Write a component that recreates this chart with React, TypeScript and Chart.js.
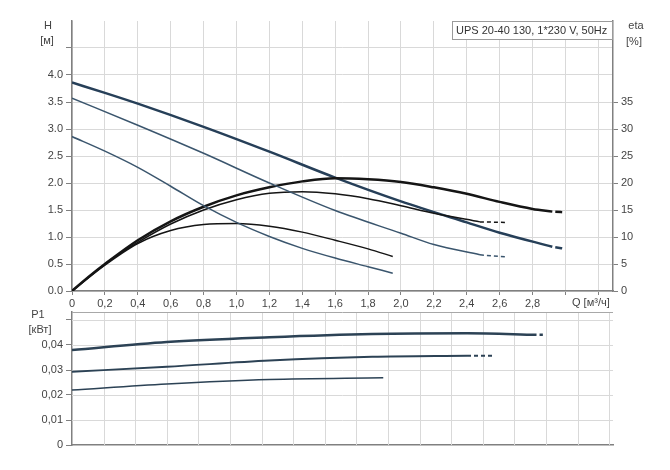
import React, { useEffect, useRef } from "react";
import { Chart, registerables } from "chart.js";
Chart.register(...registerables);

// ---------- data ----------
const Q_TICKS_TOP = [0, 0.2, 0.4, 0.6, 0.8, 1.0, 1.2, 1.4, 1.6, 1.8, 2.0, 2.2, 2.4, 2.6, 2.8, 3.0, 3.2];
const Q_LABELS_TOP = ["0", "0,2", "0,4", "0,6", "0,8", "1,0", "1,2", "1,4", "1,6", "1,8", "2,0", "2,2", "2,4", "2,6", "2,8", "", ""];
const H_TICKS = [0, 0.5, 1, 1.5, 2, 2.5, 3, 3.5, 4, 4.5, 5];
const H_LABELS = ["0.0", "0.5", "1.0", "1.5", "2.0", "2.5", "3.0", "3.5", "4.0", "", ""];
const ETA_TICKS = [0, 5, 10, 15, 20, 25, 30, 35];
const ETA_LABELS = ["0", "5", "10", "15", "20", "25", "30", "35"];
const Q_TICKS_BOTTOM = [0, 0.2, 0.4, 0.6, 0.8, 1.0, 1.2, 1.4, 1.6, 1.8, 2.0, 2.2, 2.4, 2.6, 2.8, 3.0, 3.2, 3.4];
const P1_TICKS = [0, 0.01, 0.02, 0.03, 0.04, 0.05];
const P1_LABELS = ["0", "0,01", "0,02", "0,03", "0,04", ""];
const P1_MAX = 0.0532;

// head curves H [m]
const H1_Q = [0, 0.2, 0.4, 0.8, 1.2, 1.6, 2.0, 2.4, 2.6, 2.92];
const H1_V = [3.86, 3.67, 3.47, 3.04, 2.58, 2.1, 1.66, 1.27, 1.08, 0.82];
const H1_DASH_Q = [2.92, 2.98];
const H1_DASH_V = [0.82, 0.79];

const H2_Q = [0, 0.4, 0.8, 1.2, 1.6, 2.0, 2.2, 2.48];
const H2_V = [3.57, 3.07, 2.55, 2.0, 1.49, 1.07, 0.86, 0.67];
const H2_DASH_Q = [2.48, 2.64];
const H2_DASH_V = [0.67, 0.63];

const H3_Q = [0, 0.2, 0.4, 0.6, 0.8, 1.0, 1.2, 1.4, 1.6, 1.8, 1.95];
const H3_V = [2.86, 2.59, 2.29, 1.94, 1.58, 1.27, 1.01, 0.79, 0.61, 0.45, 0.33];

// efficiency curves eta [%]
const E1_Q = [0, 0.1, 0.2, 0.4, 0.6, 0.8, 1.0, 1.2, 1.4, 1.6, 1.8, 2.0, 2.2, 2.4, 2.6, 2.8, 2.92];
const E1_V = [0, 2.6, 5.0, 9.4, 12.9, 15.6, 17.7, 19.2, 20.3, 20.9, 20.7, 20.2, 19.2, 18.0, 16.5, 15.2, 14.7];
const E1_DASH_Q = [2.92, 2.98];
const E1_DASH_V = [14.7, 14.6];

const E2_Q = [0, 0.2, 0.4, 0.6, 0.8, 1.0, 1.2, 1.4, 1.6, 1.8, 2.0, 2.2, 2.48];
const E2_V = [0, 5.0, 9.0, 12.4, 15.0, 16.9, 18.1, 18.4, 18.0, 17.1, 15.8, 14.4, 12.8];
const E2_DASH_Q = [2.48, 2.64];
const E2_DASH_V = [12.8, 12.7];

const E3_Q = [0, 0.2, 0.4, 0.6, 0.8, 1.0, 1.2, 1.4, 1.6, 1.8, 1.95];
const E3_V = [0, 4.8, 8.8, 11.2, 12.3, 12.5, 12.0, 10.9, 9.4, 7.8, 6.4];

// power curves P1 [kW]
const P1A_Q = [0, 0.6, 1.25, 1.9, 2.5, 2.94];
const P1A_V = [0.038, 0.0412, 0.0431, 0.0444, 0.0447, 0.0441];
const P1A_DASH_Q = [2.94, 2.98];
const P1A_DASH_V = [0.0441, 0.0441];

const P1B_Q = [0, 0.6, 1.25, 1.9, 2.5];
const P1B_V = [0.0293, 0.0313, 0.0338, 0.0353, 0.0357];
const P1B_DASH_Q = [2.5, 2.67];
const P1B_DASH_V = [0.0357, 0.0357];

const P1C_Q = [0, 0.6, 1.25, 1.97];
const P1C_V = [0.022, 0.0244, 0.0262, 0.0269];

const LEGEND_TEXT = "UPS 20-40 130, 1*230 V, 50Hz";

// ---------- styling ----------
const FONT = "'Liberation Sans', Arial, sans-serif";
const GRID = "#d9d9d9";
const AXIS = "#808080";
const TXT = "#444444";
const BLUE_THICK = "#263f58";
const BLUE = "#3a556d";
const BLACK = "#151515";
const PCOL = "#2c4255";

const pts = (q: number[], v: number[]) => q.map((x, i) => ({ x, y: v[i] }));

function ds(q: number[], v: number[], color: string, width: number, axis: string, dash?: number[]) {
  return {
    data: pts(q, v),
    borderColor: color,
    borderWidth: width,
    pointRadius: 0,
    fill: false,
    yAxisID: axis,
    cubicInterpolationMode: "monotone" as const,
    borderDash: dash || [],
    borderCapStyle: "butt" as const,
  };
}

function textPlugin(draw: (ctx: CanvasRenderingContext2D) => void) {
  return {
    id: "texts",
    afterDraw(chart: any) {
      const ctx = chart.ctx as CanvasRenderingContext2D;
      ctx.save();
      draw(ctx);
      ctx.restore();
    },
  };
}

// draws the bottom panel's grid from its own scales
const bottomGridPlugin = {
  id: "bottomGrid",
  beforeDatasetsDraw(chart: any) {
    const ctx = chart.ctx as CanvasRenderingContext2D;
    const { left, right, top, bottom } = chart.chartArea;
    const xs = chart.scales.x;
    const ys = chart.scales.y;
    ctx.save();
    ctx.lineWidth = 1;
    ctx.strokeStyle = GRID;
    Q_TICKS_BOTTOM.forEach((q) => {
      if (q === 0) return;
      const px = Math.round(xs.getPixelForValue(q)) + 0.5;
      ctx.beginPath();
      ctx.moveTo(px, top);
      ctx.lineTo(px, bottom);
      ctx.stroke();
    });
    P1_TICKS.forEach((p) => {
      if (p === 0) return;
      const py = Math.round(ys.getPixelForValue(p)) + 0.5;
      ctx.beginPath();
      ctx.moveTo(left, py);
      ctx.lineTo(right, py);
      ctx.stroke();
    });
    ctx.strokeStyle = "#a8a8a8";
    const ty = Math.round(ys.getPixelForValue(P1_MAX)) + 0.5;
    ctx.beginPath();
    ctx.moveTo(left, ty);
    ctx.lineTo(right, ty);
    ctx.stroke();
    ctx.restore();
  },
};

const fixedTicks = (vals: number[]) => (axis: any) => {
  axis.ticks = vals.map((v) => ({ value: v }));
};

export default function App() {
  const topRef = useRef<HTMLCanvasElement>(null);
  const botRef = useRef<HTMLCanvasElement>(null);

  useEffect(() => {
    const top = new Chart(topRef.current as HTMLCanvasElement, {
      type: "line",
      data: {
        datasets: [
          ds(H3_Q, H3_V, BLUE, 1.5, "y"),
          ds(H2_Q, H2_V, BLUE, 1.5, "y"),
          ds(H2_DASH_Q, H2_DASH_V, BLUE, 1.5, "y", [4, 3]),
          ds(E3_Q, E3_V, BLACK, 1.5, "eta"),
          ds(E2_Q, E2_V, BLACK, 1.5, "eta"),
          ds(E2_DASH_Q, E2_DASH_V, BLACK, 1.5, "eta", [4, 3]),
          ds(E1_Q, E1_V, BLACK, 2.5, "eta"),
          ds(E1_DASH_Q, E1_DASH_V, BLACK, 2.5, "eta", [0, 3, 6]),
          ds(H1_Q, H1_V, BLUE_THICK, 2.5, "y"),
          ds(H1_DASH_Q, H1_DASH_V, BLUE_THICK, 2.5, "y", [0, 3, 6]),
        ] as any,
      },
      options: {
        responsive: false,
        animation: false,
        events: [],
        layout: { padding: { top: 21, left: 0, right: 0, bottom: 0 } },
        plugins: { legend: { display: false }, tooltip: { enabled: false } },
        scales: {
          x: {
            type: "linear",
            min: 0,
            max: 3.289,
            afterBuildTicks: fixedTicks(Q_TICKS_TOP),
            afterFit: (s: any) => { s.height = 20; },
            ticks: {
              autoSkip: false,
              maxRotation: 0,
              padding: 2,
              color: TXT,
              font: { family: FONT, size: 11 },
              callback: (_v: any, i: number) => Q_LABELS_TOP[i],
            },
            grid: { color: GRID, lineWidth: 1, tickLength: 4, tickColor: AXIS },
            border: { color: AXIS, width: 1.5 },
          },
          y: {
            type: "linear",
            position: "left",
            min: 0,
            max: 5,
            afterBuildTicks: fixedTicks(H_TICKS),
            afterFit: (s: any) => { s.width = 72; },
            ticks: {
              autoSkip: false,
              padding: 3,
              color: TXT,
              font: { family: FONT, size: 11 },
              callback: (_v: any, i: number) => H_LABELS[i],
            },
            grid: {
              color: (c: any) => (c.tick && c.tick.value >= 5 ? "rgba(0,0,0,0)" : GRID),
              tickColor: (c: any) => (c.tick && c.tick.value >= 5 ? "rgba(0,0,0,0)" : AXIS),
              tickLength: 6,
            },
            border: { color: AXIS, width: 1.5 },
          },
          eta: {
            type: "linear",
            position: "right",
            min: 0,
            max: 50,
            afterBuildTicks: fixedTicks(ETA_TICKS),
            afterFit: (s: any) => { s.width = 57; },
            ticks: {
              autoSkip: false,
              padding: 3,
              color: TXT,
              font: { family: FONT, size: 11 },
              callback: (_v: any, i: number) => ETA_LABELS[i],
            },
            grid: { drawOnChartArea: false, tickLength: 5, tickColor: AXIS },
            border: { color: AXIS, width: 1.5 },
          },
        },
      } as any,
      plugins: [
        textPlugin((ctx) => {
          ctx.fillStyle = TXT;
          ctx.font = `11px ${FONT}`;
          ctx.textAlign = "center";
          ctx.textBaseline = "middle";
          ctx.fillText("H", 48, 26);
          ctx.fillText("[м]", 47, 41);
          ctx.fillText("eta", 636, 26);
          ctx.fillText("[%]", 634, 42);
          ctx.textAlign = "left";
          ctx.fillText("Q [м³/ч]", 572, 303);
          // legend box
          ctx.fillStyle = "#ffffff";
          ctx.fillRect(452.5, 21.5, 160, 18);
          ctx.strokeStyle = "#9a9a9a";
          ctx.lineWidth = 1;
          ctx.strokeRect(452.5, 21.5, 160, 18);
          ctx.fillStyle = "#333333";
          ctx.fillText(LEGEND_TEXT, 456, 31);
        }),
      ],
    });

    const bot = new Chart(botRef.current as HTMLCanvasElement, {
      type: "line",
      data: {
        datasets: [
          ds(P1C_Q, P1C_V, PCOL, 1.5, "y"),
          ds(P1B_Q, P1B_V, PCOL, 1.8, "y"),
          ds(P1B_DASH_Q, P1B_DASH_V, PCOL, 1.8, "y", [4, 3]),
          ds(P1A_Q, P1A_V, PCOL, 2.5, "y"),
          ds(P1A_DASH_Q, P1A_DASH_V, PCOL, 2.5, "y", [0, 3, 6]),
        ] as any,
      },
      options: {
        responsive: false,
        animation: false,
        events: [],
        layout: { padding: { top: 12, left: 0, right: 57, bottom: 0 } },
        plugins: { legend: { display: false }, tooltip: { enabled: false } },
        scales: {
          x: {
            type: "linear",
            min: 0,
            max: 3.424,
            afterBuildTicks: fixedTicks(Q_TICKS_BOTTOM),
            afterFit: (s: any) => {
              s.height = 25;
              s.paddingLeft = 0;
              s.paddingRight = 0;
            },
            ticks: { display: false, autoSkip: false },
            grid: { display: false },
            border: { display: true, color: AXIS, width: 1.5 },
          },
          y: {
            type: "linear",
            position: "left",
            min: 0,
            max: P1_MAX,
            afterBuildTicks: fixedTicks(P1_TICKS),
            afterFit: (s: any) => {
              s.width = 72;
              s.paddingTop = 0;
              s.paddingBottom = 0;
            },
            ticks: {
              autoSkip: false,
              padding: 3,
              color: TXT,
              font: { family: FONT, size: 11 },
              callback: (_v: any, i: number) => P1_LABELS[i],
            },
            grid: { drawOnChartArea: false, tickLength: 6, tickColor: AXIS },
            border: { color: AXIS, width: 1.5 },
          },
        },
      } as any,
      plugins: [
        bottomGridPlugin,
        textPlugin((ctx) => {
          ctx.fillStyle = TXT;
          ctx.font = `11px ${FONT}`;
          ctx.textAlign = "center";
          ctx.textBaseline = "middle";
          ctx.fillText("P1", 38, 15);
          ctx.fillText("[кВт]", 40, 30);
        }),
      ],
    });

    return () => {
      top.destroy();
      bot.destroy();
    };
  }, []);

  return (
    <div style={{ position: "absolute", left: 0, top: 0, width: 670, height: 470, background: "#ffffff" }}>
      <canvas ref={topRef} width={670} height={311} style={{ position: "absolute", left: 0, top: 0, display: "block" }} />
      <canvas ref={botRef} width={670} height={170} style={{ position: "absolute", left: 0, top: 300, display: "block" }} />
    </div>
  );
}
